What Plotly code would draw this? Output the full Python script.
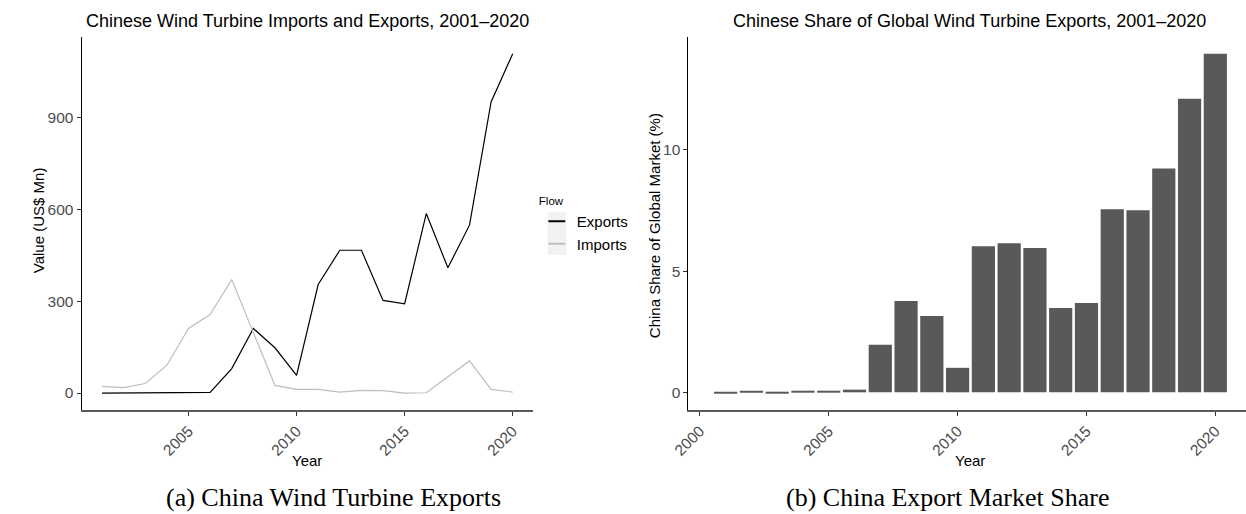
import plotly.graph_objects as go

# ---- data ----
years = list(range(2001, 2021))
exports_mn = [0, 0, 0, 0, 0, 2, 80, 211, 148, 58, 355, 467, 467, 303, 292, 587, 410, 549, 952, 1110]
imports_mn = [22, 18, 31, 91, 211, 257, 371, 197, 25, 12, 12, 3, 9, 8, 0, 1, 52, 105, 12, 3]
china_share_pct = [-0.03, 0.03, -0.03, 0.03, 0.03, 0.11, 1.96, 3.77, 3.15, 1.01,
                   6.03, 6.15, 5.95, 3.48, 3.68, 7.55, 7.51, 9.23, 12.11, 13.97]
left_yticks = [0, 300, 600, 900]
left_xticks = [2005, 2010, 2015, 2020]
right_yticks = [0, 5, 10]
right_xticks = [2000, 2005, 2010, 2015, 2020]

# ---- page geometry (pixels) ----
W, H = 1246, 514
SANS = "Liberation Sans, Arial, sans-serif"
SERIF = "Liberation Serif, Times New Roman, serif"


def fx(px):
    return px / W


def fy(px):
    return (H - px) / H


panel_top, panel_bottom = 36.7, 410.0
left_l, left_r = 65.4, 523.4
right_l, right_r = 680.7, 1246.0
ydom = [fy(panel_bottom), fy(panel_top)]

fig = go.Figure()

# line chart: exports and imports
fig.add_trace(go.Scatter(x=years, y=exports_mn, mode="lines", name="Exports",
                         legendgroup="Exports", showlegend=False,
                         line=dict(color="#000000", width=1.2),
                         xaxis="x", yaxis="y"))
fig.add_trace(go.Scatter(x=years, y=imports_mn, mode="lines", name="Imports",
                         legendgroup="Imports", showlegend=False,
                         line=dict(color="#bebebe", width=1.2),
                         xaxis="x", yaxis="y"))
# short legend keys for the two flows
for nm, col in [("Exports", "#000000"), ("Imports", "#bebebe")]:
    fig.add_trace(go.Scatter(x=[None], y=[None], mode="markers", name=nm,
                             legendgroup=nm, showlegend=True,
                             marker=dict(symbol="line-ew", size=12, color=col,
                                         line=dict(color=col, width=1.2)),
                             xaxis="x", yaxis="y"))

# bar chart: China's share of global exports
fig.add_trace(go.Bar(x=years, y=china_share_pct, width=0.9, showlegend=False,
                     marker=dict(color="#595959", line=dict(width=0)),
                     xaxis="x2", yaxis="y2"))

tickfont = dict(family=SANS, size=15.5, color="#4d4d4d")
common = dict(showgrid=False, zeroline=False, showline=True,
              ticks="outside", ticklen=4, tickcolor="#333333",
              tickwidth=1, tickfont=tickfont)
xline = dict(linecolor="#5a5a5a", linewidth=2)
yline = dict(linecolor="#000000", linewidth=1)

fig.update_layout(
    width=W, height=H,
    margin=dict(l=0, r=0, t=0, b=0),
    paper_bgcolor="white", plot_bgcolor="white",
    xaxis=dict(domain=[fx(left_l), fx(left_r)], range=[2000.05, 2020.95],
               tickvals=left_xticks, tickangle=-45, anchor="y", **common, **xline),
    yaxis=dict(domain=ydom, range=[-55.5, 1165.5], tickvals=left_yticks,
               anchor="x", **common, **yline),
    xaxis2=dict(domain=[fx(right_l), fx(right_r)], range=[1999.555, 2021.19],
                tickvals=right_xticks, tickangle=-45, anchor="y2", **common, **xline),
    yaxis2=dict(domain=ydom, range=[-0.73, 14.67], tickvals=right_yticks,
                anchor="x2", **common, **yline),
    legend=dict(x=fx(527), xanchor="left", y=fy(190), yanchor="top",
                bgcolor="rgba(0,0,0,0)", itemsizing="constant",
                title=dict(text="Flow", font=dict(family=SANS, size=11.5, color="#000000")),
                font=dict(family=SANS, size=15, color="#000000"),
                tracegroupgap=0),
    showlegend=True,
)

# grey background behind the legend keys
fig.add_shape(type="rect", xref="paper", yref="paper",
              x0=fx(538), x1=fx(557), y0=fy(255), y1=fy(212),
              fillcolor="#f2f2f2", line=dict(width=0), layer="below")

ann = []
# panel titles
ann.append(dict(text="Chinese Wind Turbine Imports and Exports, 2001\u20132020",
                x=fx((left_l + left_r) / 2), y=fy(21.5), xanchor="center", yanchor="middle",
                font=dict(family=SANS, size=18, color="#000000")))
ann.append(dict(text="Chinese Share of Global Wind Turbine Exports, 2001\u20132020",
                x=fx(966), y=fy(21.5), xanchor="center", yanchor="middle",
                font=dict(family=SANS, size=18, color="#000000")))
# axis titles
for cx in [(left_l + left_r) / 2, 966]:
    ann.append(dict(text="Year", x=fx(cx), y=fy(460), xanchor="center", yanchor="middle",
                    font=dict(family=SANS, size=15, color="#000000")))
ann.append(dict(text="Value (US$ Mn)", x=fx(21.5), y=fy(220), textangle=-90,
                xanchor="center", yanchor="middle",
                font=dict(family=SANS, size=15, color="#000000")))
ann.append(dict(text="China Share of Global Market (%)", x=fx(646), y=fy(226), textangle=-90,
                xanchor="center", yanchor="middle",
                font=dict(family=SANS, size=15, color="#000000")))
# sub-figure captions
ann.append(dict(text="(a) China Wind Turbine Exports", x=fx(321), y=0,
                xanchor="center", yanchor="bottom",
                font=dict(family=SERIF, size=26, color="#000000")))
ann.append(dict(text="(b) China Export Market Share", x=fx(943), y=0,
                xanchor="center", yanchor="bottom",
                font=dict(family=SERIF, size=26, color="#000000")))
for a in ann:
    a.update(xref="paper", yref="paper", showarrow=False)
fig.update_layout(annotations=ann)

fig.write_html("out.html",
               post_script="document.body.style.margin='0';document.body.style.padding='0';")
